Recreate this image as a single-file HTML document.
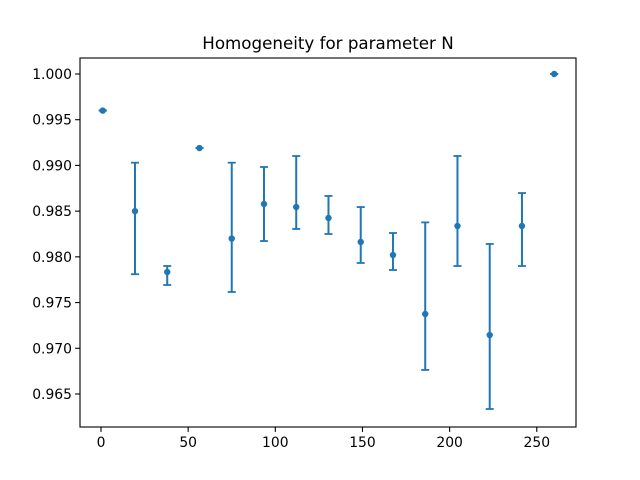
<!DOCTYPE html>
<html><head><meta charset="utf-8"><style>body{margin:0;background:#fff}svg{display:block;font-family:"DejaVu Sans","Liberation Sans",sans-serif}</style></head>
<body>
<svg id="chart" width="640" height="480" viewBox="0 0 640 480"></svg>
<script>
const xValues=[1,19.5,38,56.5,75,93.5,112,130.5,149,167.5,186,204.5,223,241.5,260];
const yValues=[0.9960,0.9850,0.97834,0.9919,0.9820,0.98578,0.98545,0.98425,0.98163,0.9802,0.97375,0.98338,0.97145,0.98338,1.0000];
const yUpper=[0.9960,0.9903,0.9790,0.9919,0.9903,0.98983,0.99103,0.98666,0.98545,0.98261,0.98377,0.99103,0.98141,0.98698,1.0000];
const yLower=[0.9960,0.9781,0.97692,0.9919,0.97616,0.98173,0.98305,0.9825,0.97933,0.97856,0.96763,0.9790,0.96336,0.9790,1.0000];
const xTicks=[0,50,100,150,200,250];
const yTicks=[0.965,0.970,0.975,0.980,0.985,0.990,0.995,1.000];
const L=80,R=576,T=58,B=427;
const xMin=-12.05,xMax=272.5,yMin=0.96139,yMax=1.00175;
const sx=v=>L+(v-xMin)/(xMax-xMin)*(R-L);
const sy=v=>B-(v-yMin)/(yMax-yMin)*(B-T);
const svg=document.getElementById('chart');const NS='http://www.w3.org/2000/svg';
function mk(t,a,p){const e=document.createElementNS(NS,t);for(const k in a)e.setAttribute(k,a[k]);(p||svg).appendChild(e);return e;}
const c='#1f77b4';
xTicks.forEach(v=>{const x=sx(v);
const t=mk('line',{x1:x,x2:x,y1:B,y2:B+4.9,stroke:'#000','stroke-width':1.1});


const l=mk('text',{x:x,y:B+20,'font-size':13.9,'text-anchor':'middle'});l.textContent=v;

});
yTicks.forEach(v=>{const y=sy(v);
const t=mk('line',{x1:L-4.9,x2:L,y1:y,y2:y,stroke:'#000','stroke-width':1.1});


const l=mk('text',{x:L-8,y:y+5,'font-size':13.9,'text-anchor':'end'});l.textContent=v.toFixed(3);

});
xValues.forEach((xv,i)=>{const x=sx(xv);const g=mk('g',{});


const yt=sy(yUpper[i]),yb=sy(yLower[i]);
mk('line',{x1:x,x2:x,y1:yt,y2:yb,stroke:c,'stroke-width':2},g);
mk('line',{x1:x-4,x2:x+4,y1:yt,y2:yt,stroke:c,'stroke-width':1.8},g);
mk('line',{x1:x-4,x2:x+4,y1:yb,y2:yb,stroke:c,'stroke-width':1.8},g);
mk('circle',{cx:x,cy:sy(yValues[i]),r:3.2,fill:c},g);});
const f=mk('rect',{x:L,y:T,width:R-L,height:B-T,fill:'none',stroke:'#000','stroke-width':1.1});


const ti=mk('text',{x:(L+R)/2,y:T-9,'font-size':16.7,'text-anchor':'middle'});ti.textContent='Homogeneity for parameter N';


</script>
</body></html>
